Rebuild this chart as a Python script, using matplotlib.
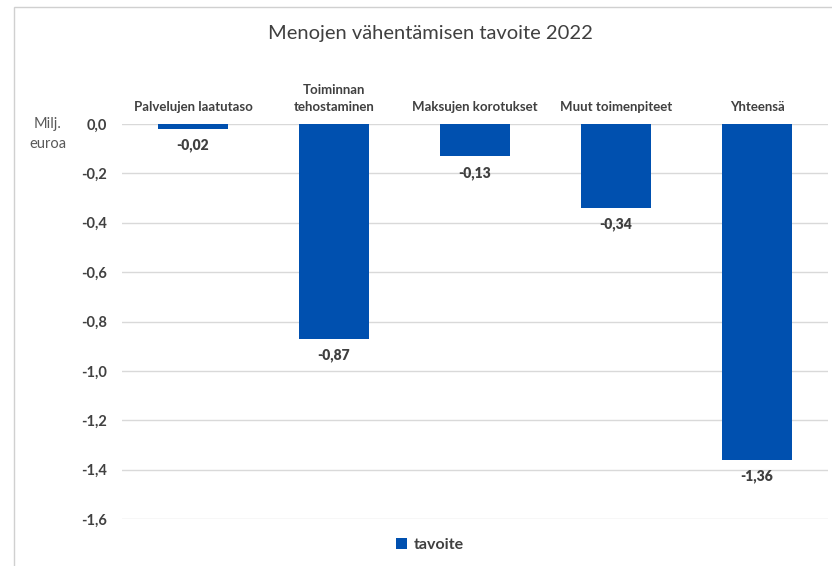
import matplotlib
matplotlib.use("Agg")
import matplotlib.pyplot as plt
from matplotlib.patches import Rectangle

# Data
categories = ["Palvelujen laatutaso", "Toiminnan\ntehostaminen", "Maksujen korotukset",
              "Muut toimenpiteet", "Yhteensä"]
values = [-0.02, -0.87, -0.13, -0.34, -1.36]
yticks = [0.0, -0.2, -0.4, -0.6, -0.8, -1.0, -1.2, -1.4, -1.6]

plt.rcParams["font.family"] = ["Lato", "DejaVu Sans"]
bar_color = "#0050AF"
text_color = "#404040"

fig = plt.figure(figsize=(8.32, 5.66), dpi=100)
ax = fig.add_axes([0.1472, 0.0830, 0.8474, 0.6979])

x = list(range(len(categories)))
bars = ax.bar(x, values, width=0.5, color=bar_color, label="tavoite", zorder=3)

ax.set_xlim(-0.5, len(categories) - 0.5)
ax.set_ylim(-1.6, 0.0)
ax.set_yticks(yticks)
ax.set_yticklabels([f"{t:.1f}".replace(".", ",") for t in yticks],
                   fontsize=10.5, fontweight="bold", color=text_color)
ax.tick_params(axis="y", length=0, pad=11)
ax.set_xticks([])
ax.grid(axis="y", color="#d9d9d9", linewidth=1, zorder=0)
for s in ax.spines.values():
    s.set_visible(False)

# category labels above the plot
for xi, cat in zip(x, categories):
    ax.annotate(cat, (xi, 0), xytext=(0, 8), textcoords="offset points",
                ha="center", va="bottom", fontsize=9.5, fontweight="bold",
                color=text_color, linespacing=1.5)

# value labels below bars
for xi, v in zip(x, values):
    ax.annotate(f"{v:.2f}".replace(".", ","), (xi, v), xytext=(0, -7),
                textcoords="offset points", ha="center", va="top",
                fontsize=10, fontweight="heavy", color=text_color)

fig.text(48 / 832, 1 - 134 / 566, "Milj.\neuroa", ha="center", va="center",
         fontsize=10.5, color="#595959", linespacing=1.5)

fig.text(430 / 832, 1 - 33 / 566, "Menojen vähentämisen tavoite 2022",
         ha="center", va="center", fontsize=14.5, color=text_color)

leg = fig.legend(loc="center", bbox_to_anchor=(430 / 832, 1 - 545 / 566),
                 frameon=False, fontsize=11.5, handlelength=0.7, handleheight=0.7,
                 handletextpad=0.4)
for t in leg.get_texts():
    t.set_color(text_color)
    t.set_fontweight("bold")

# outer chart border
fig.patches.append(Rectangle((14 / 832, -0.1), 1.2, 1 - 7 / 566 + 0.1,
                             transform=fig.transFigure, fill=False,
                             edgecolor="#d0d0d0", linewidth=1))

fig.savefig("out.png", dpi=100)
